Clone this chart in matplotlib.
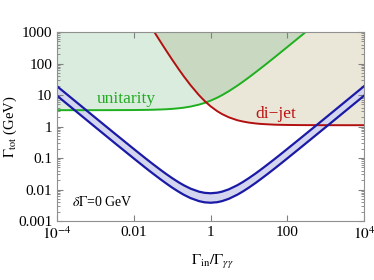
import numpy as np
import matplotlib
matplotlib.use("Agg")
import matplotlib.pyplot as plt

plt.rcParams['font.family'] = 'serif'
plt.rcParams['font.serif'] = ['Liberation Serif', 'DejaVu Serif']
plt.rcParams['mathtext.fontset'] = 'stix'

# ratio Gamma_in / Gamma_gamgam
ratio = [1e-4, 3e-4, 1e-3, 3e-3, 0.01, 0.02, 0.03, 0.05, 0.07, 0.1, 0.15, 0.2, 0.3, 0.5, 0.7,
         1, 1.5, 2, 3, 5, 7, 10, 15, 20, 30, 50, 70, 100, 200, 300, 1000, 3000, 1e4]

# band edges (GeV)
band_upper = [19.0, 6.34, 1.90, 0.637, 0.194, 0.0988, 0.0672, 0.0419, 0.0311, 0.0230, 0.01675,
              0.01368, 0.0107, 0.00855, 0.00784, 0.0076, 0.00792, 0.00855, 0.01013, 0.01368,
              0.01737, 0.0230, 0.0324, 0.0419, 0.0609, 0.0988, 0.1368, 0.194, 0.384, 0.574,
              1.90, 5.70, 19.0]
band_lower = [9.5, 3.17, 0.95, 0.318, 0.097, 0.0494, 0.0336, 0.0210, 0.0156, 0.0115, 0.0084,
              0.00684, 0.00535, 0.00428, 0.00392, 0.0038, 0.00396, 0.00428, 0.00507, 0.00684,
              0.00869, 0.0115, 0.0162, 0.0210, 0.0304, 0.0494, 0.0684, 0.097, 0.192, 0.287,
              0.95, 2.85, 9.5]

# unitarity bound
unitarity = [3.30, 3.30, 3.30, 3.31, 3.33, 3.37, 3.40, 3.47, 3.53, 3.63, 3.80, 3.96, 4.29, 4.95,
             5.61, 6.6, 8.25, 9.9, 13.2, 19.8, 26.4, 36.3, 52.8, 69.3, 102, 168, 234, 333, 663,
             993, 3303, 9903, 33003]

# di-jet bound
dijet = [1.1e8, 1.22e7, 1.10e6, 1.23e5, 11221, 2861, 1297, 485, 257, 133, 64.7, 39.6, 20.7, 9.9,
         6.49, 4.4, 3.06, 2.48, 1.96, 1.58, 1.44, 1.33, 1.25, 1.21, 1.175, 1.14, 1.13, 1.12,
         1.11, 1.107, 1.102, 1.10, 1.10]

x = np.array(ratio)
top = 1e6

fig = plt.figure(figsize=(3.74, 2.80), dpi=100)
ax = fig.add_axes([0.1524, 0.2107, 0.8209, 0.675])

# excluded regions
ax.fill_between(x, unitarity, top, color='#d9ecdd', lw=0)
ax.fill_between(x, dijet, top, color='#ebe7d8', lw=0)
ax.fill_between(x, np.maximum(unitarity, dijet), top, color='#c8d8c1', lw=0)
ax.plot(x, unitarity, color='#1fb01f', lw=1.4)
ax.plot(x, dijet, color='#b21010', lw=1.4)

# band
ax.fill_between(x, band_lower, band_upper, color='#d3d6ee', lw=0)
ax.plot(x, band_upper, color='#1a1aa6', lw=1.6)
ax.plot(x, band_lower, color='#1a1aa6', lw=1.6)

ax.set_xscale('log')
ax.set_yscale('log')
ax.set_xlim(1e-4, 1e4)
ax.set_ylim(1e-3, 1e3)

ax.set_xticks([1e-4, 1e-2, 1, 1e2, 1e4])
ax.set_xticklabels([r'$10^{-4}$', '0.01', '1', '100', r'$10^{4}$'])
ax.set_yticks([1e-3, 1e-2, 1e-1, 1, 10, 100, 1000])
ax.set_yticklabels(['0.001', '0.01', '0.1', '1', '10', '100', '1000'])
ax.tick_params(which='both', direction='in', top=True, right=True, color='#808080', labelsize=11)
ax.tick_params(which='major', length=4)
ax.tick_params(which='minor', length=2)
for s in ax.spines.values():
    s.set_color('#909090')

ax.text(0.0063, 7.4, 'unitarity', color='#22aa22', fontsize=12.5, ha='center', va='center')
ax.text(50, 2.5, 'di\u2212jet', color='#bb1111', fontsize=12.5, ha='center', va='center')
ax.text(0.147, 0.103, r'$\delta\Gamma$=0 GeV', transform=ax.transAxes, fontsize=10,
        ha='center', va='center')

ax.set_xlabel(r'$\Gamma_{\rm in}/\Gamma_{\gamma\gamma}$', fontsize=11)
ax.xaxis.set_label_coords(0.506, -0.17)
ax.set_ylabel(r'$\Gamma_{\rm tot}$ (GeV)', fontsize=10.5)
ax.yaxis.set_label_coords(-0.125, 0.5)

fig.savefig('out.png', dpi=100)
